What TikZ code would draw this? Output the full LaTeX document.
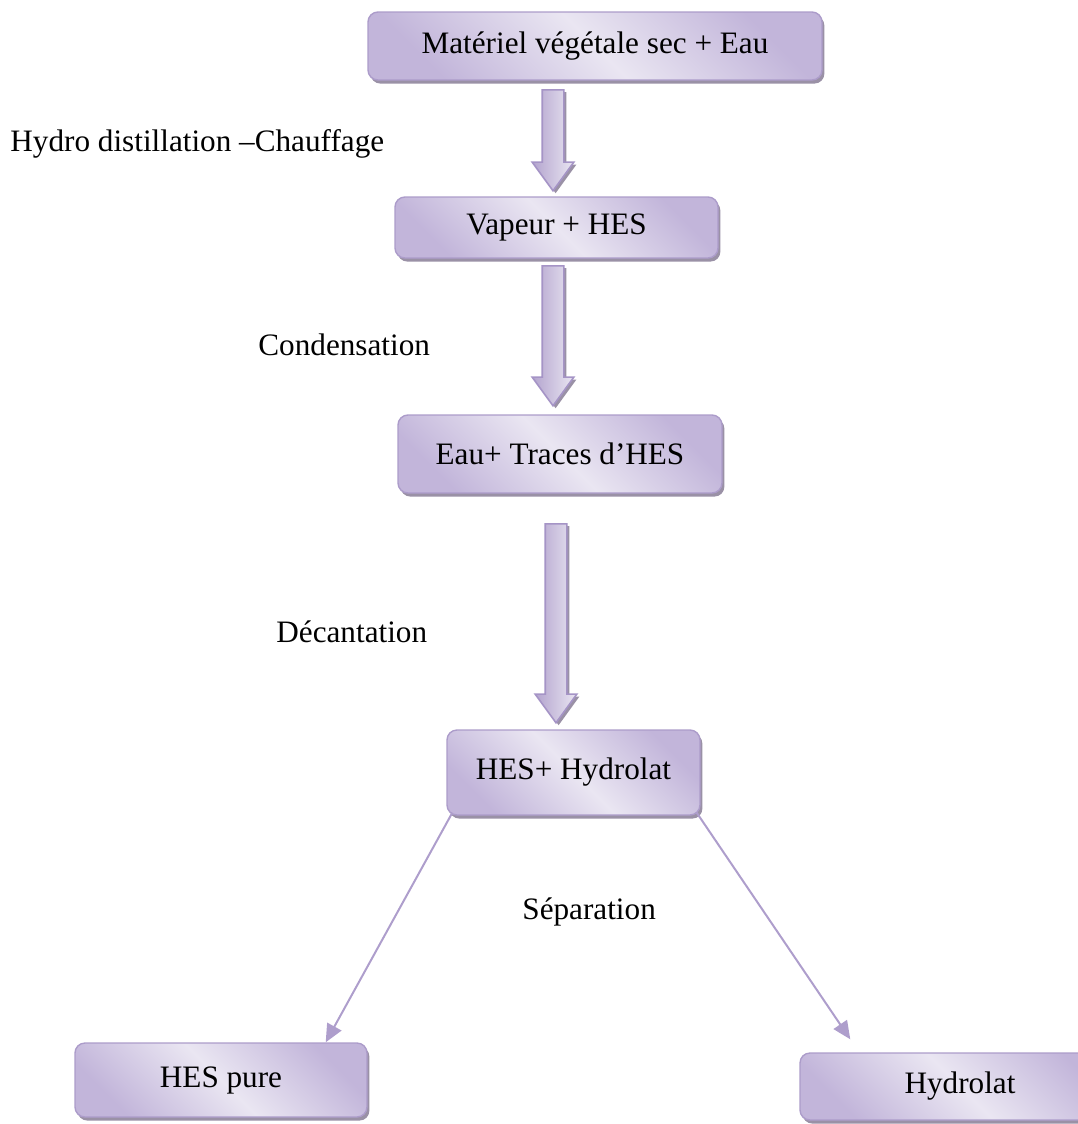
\documentclass[tikz,border=0pt]{standalone}
\usepackage{fontspec}
\setmainfont{Liberation Serif}
\usepackage{xcolor}
\usepackage{tikz}
\usetikzlibrary{shapes.arrows, shadows, arrows.meta}
\definecolor{boxlight}{HTML}{EAE6F2}
\definecolor{boxmid}{HTML}{C2B5DA}
\definecolor{arrowmid}{HTML}{B3A4CE}
\definecolor{boxedge}{HTML}{AC9CCA}
\definecolor{boxshade}{HTML}{9A91A6}
\definecolor{arrowedge}{HTML}{A594C6}
\definecolor{linecol}{HTML}{AE9ECC}
\tikzstyle{procbox}=[rounded corners=5pt, draw=boxedge, line width=0.7pt,
left color=boxmid, right color=boxmid, middle color=boxlight, shading angle=135,
drop shadow={shadow xshift=1.2pt, shadow yshift=-1.8pt, fill=boxshade, opacity=1},
inner sep=0pt, font=\fontsize{15.6}{18}\selectfont]
\tikzstyle{blockarrow}=[single arrow, shape border rotate=270, draw=arrowedge, line width=0.8pt,
left color=arrowmid, right color=boxlight, inner sep=5pt, minimum width=20pt,
single arrow head extend=5pt, single arrow tip angle=72, anchor=tail,
drop shadow={shadow xshift=1.3pt, shadow yshift=-1.2pt, fill=boxshade, opacity=1}]
\tikzstyle{steplabel}=[anchor=west, inner sep=0pt, font=\fontsize{15.6}{18}\selectfont]
\tikzstyle{splitline}=[draw=linecol, line width=1pt, -{Triangle[length=9pt,width=8pt]}]

\begin{document}
\begin{tikzpicture}[x=0.5pt, y=-0.5pt]
\useasboundingbox (0,0) rectangle (1077,1124);

% etapes
\node[procbox, minimum width=227pt, minimum height=34pt] (b1) at (595,46) {Matériel végétale sec + Eau};
\node[procbox, minimum width=161.5pt, minimum height=30.5pt] (b2) at (556.5,227.5) {Vapeur + HES};
\node[procbox, minimum width=162pt, minimum height=39pt] (b3) at (560,454) {Eau+ Traces d’HES};
\node[procbox, minimum width=126.5pt, minimum height=42.5pt] (b4) at (573.5,772.5) {HES+ Hydrolat};
\node[procbox, minimum width=146pt, minimum height=37pt] (b5) at (221,1080) {HES pure};
\node[procbox, minimum width=160pt, minimum height=33.5pt] (b6) at (960,1086.5) {Hydrolat};

% fleches pleines
\node[blockarrow, minimum height=50.5pt] (a1) at (553,89) {};
\node[blockarrow, minimum height=70pt] (a2) at (553,265) {};
\node[blockarrow, minimum height=99.5pt] (a3) at (556,523) {};

% operations
\node[steplabel] (l1) at (10,144) {Hydro distillation –Chauffage};
\node[steplabel] (l2) at (258,345) {Condensation};
\node[steplabel] (l3) at (276,632) {Décantation};
\node[steplabel] (l4) at (522,912) {Séparation};

% separation
\draw[splitline] ([xshift=3pt,yshift=1.5pt]b4.south west) -- ([xshift=-21pt]b5.north east);
\draw[splitline] ([xshift=-2pt,yshift=1.5pt]b4.south east) -- ([xshift=25.5pt,yshift=6.5pt]b6.north west);
\end{tikzpicture}
\end{document}
